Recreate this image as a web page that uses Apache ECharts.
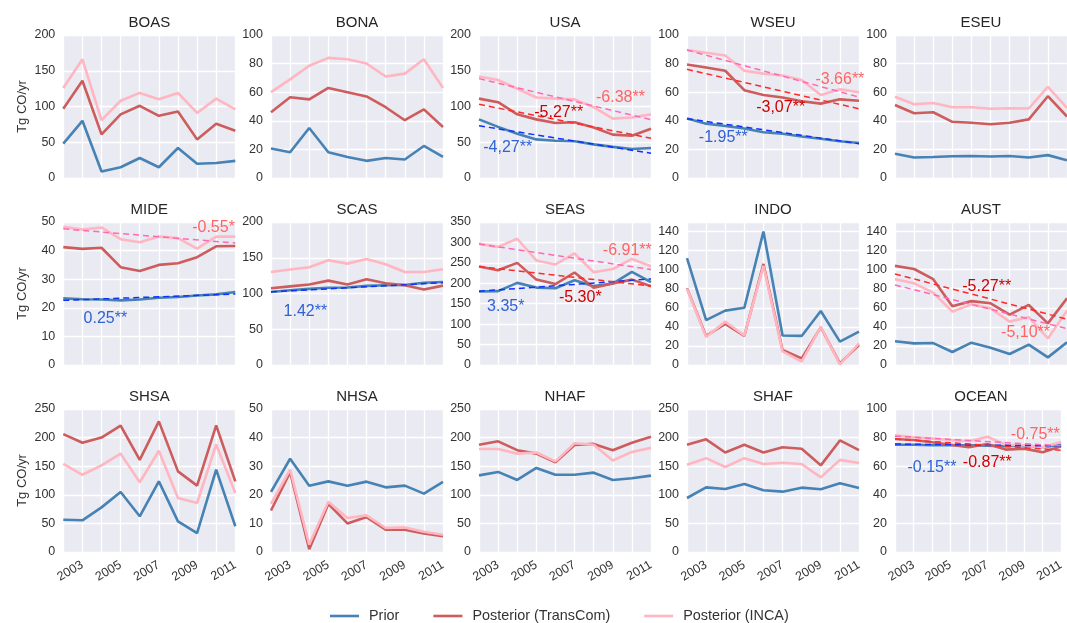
<!DOCTYPE html>
<html><head><meta charset="utf-8">
<script src="https://cdn.jsdelivr.net/npm/echarts@6/dist/echarts.min.js"></script>
<style>html,body{margin:0;padding:0;background:#fff}#c{width:1067px;height:623px}</style>
</head><body><div id="c"></div>
<script>
const YEARS = [2002, 2003, 2004, 2005, 2006, 2007, 2008, 2009, 2010, 2011];
const REGIONS = ['BOAS','BONA','USA','WSEU','ESEU','MIDE','SCAS','SEAS','INDO','AUST','SHSA','NHSA','NHAF','SHAF','OCEAN'];
const Y_MAX = [200, 100, 200, 100, 100, 50, 200, 350, 150, 150, 250, 50, 250, 250, 100];
const Y_STEP = [50, 20, 50, 20, 20, 10, 50, 50, 20, 20, 50, 10, 50, 50, 20];
const Y_LABEL_MAX = [200, 100, 200, 100, 100, 50, 200, 350, 140, 140, 250, 50, 250, 250, 100];
const SERIES_NAMES = ['Prior', 'Posterior (TransCom)', 'Posterior (INCA)'];

const BOAS_PRIOR = [48, 80, 9, 15, 28, 15, 42, 20, 21, 24];
const BOAS_TRANSCOM = [97, 136, 61, 89, 101, 87, 93, 54, 76, 66];
const BOAS_INCA = [126, 166, 81, 108, 119, 110, 119, 91, 111, 96];
const BONA_PRIOR = [20.6, 18, 35, 18, 14.7, 12, 14, 12.9, 22.4, 14.7];
const BONA_TRANSCOM = [46, 56.5, 55, 63, 60, 57, 49.5, 40.4, 48, 35.7];
const BONA_INCA = [60, 69, 78.5, 84, 83, 80, 71, 73, 83, 63];
const USA_PRIOR = [82, 71.5, 62, 54, 52, 51.4, 47, 43.5, 40.6, 42];
const USA_TRANSCOM = [111, 106, 89, 82, 77, 78, 70.6, 60.7, 59, 69];
const USA_INCA = [142, 137, 124.8, 112.6, 111, 110, 99, 83, 84.6, 89];
const WSEU_PRIOR = [41.6, 38, 36.4, 34.6, 32, 31, 29, 27.5, 25.7, 24.5];
const WSEU_TRANSCOM = [79.4, 77.3, 75, 61.4, 58, 56.3, 53.7, 52, 55, 54];
const WSEU_INCA = [89.5, 87.6, 85.7, 75, 73, 71.7, 68.5, 58, 62, 60];
const ESEU_PRIOR = [17, 14.3, 14.7, 15.2, 15.4, 15, 15.4, 14.3, 16, 12.4];
const ESEU_TRANSCOM = [51, 45.3, 46, 39.3, 38.6, 37.6, 38.6, 41, 57.2, 43];
const ESEU_INCA = [56.8, 51.6, 52.5, 49.5, 49.5, 48.4, 48.8, 48.6, 63.8, 49];
const MIDE_PRIOR = [23.3, 23, 22.9, 22.6, 22.9, 23.5, 23.8, 24.3, 24.7, 25.5];
const MIDE_TRANSCOM = [41.2, 40.6, 41, 34.2, 32.9, 35, 35.6, 37.7, 41.5, 41.6];
const MIDE_INCA = [48.3, 47.4, 48.1, 44, 42.9, 44.9, 44.4, 40.7, 44.9, 44.9];
const SCAS_PRIOR = [102, 104.6, 106.5, 108, 108.4, 110.7, 111.6, 112, 115, 116];
const SCAS_TRANSCOM = [107.4, 110, 112.5, 118, 112.5, 120, 114.4, 111.6, 105.6, 111];
const SCAS_INCA = [130, 133.5, 136.7, 146.5, 141.8, 148.4, 141, 130, 130, 134];
const SEAS_PRIOR = [180, 180.7, 201, 189.5, 188, 207.5, 193, 199.4, 228, 202.7];
const SEAS_TRANSCOM = [241, 232, 250, 209, 198, 226.4, 189, 199.4, 209, 193];
const SEAS_INCA = [297, 289, 309, 256, 246, 273, 227, 235, 259.6, 241.7];
const INDO_PRIOR = [112, 47, 57, 60, 140, 31, 30.5, 56.7, 24.5, 35];
const INDO_TRANSCOM = [80.5, 30.5, 43, 30.5, 106, 15.7, 7, 39.5, 1.7, 21];
const INDO_INCA = [80, 29.4, 45.5, 31, 104, 14.3, 3.5, 40, 0.7, 22.7];
const AUST_PRIOR = [25, 22.7, 23, 13.6, 23.4, 18.2, 11.5, 21.3, 8, 23.8];
const AUST_TRANSCOM = [104, 100.7, 90, 61.5, 67, 64.7, 52.8, 63, 43.7, 70];
const AUST_INCA = [90, 85.7, 76, 56, 63.6, 59.4, 45.5, 50.3, 27.9, 57];
const SHSA_PRIOR = [56.5, 55.4, 78, 105, 62.4, 123.5, 53.6, 33, 144, 45];
const SHSA_TRANSCOM = [206, 191, 200, 221, 161, 228.4, 141, 116, 221.4, 123.5];
const SHSA_INCA = [154, 135, 151.5, 172, 122, 177, 94.4, 85.7, 188, 103];
const NHSA_PRIOR = [21, 32.6, 23.2, 24.7, 23.2, 24.6, 22.6, 23.2, 20.4, 24.5];
const NHSA_TRANSCOM = [14.5, 27.9, 1, 16.8, 10, 12.2, 7.8, 7.8, 6.5, 5.5];
const NHSA_INCA = [16.8, 28.8, 2.6, 17.6, 11.9, 12.8, 8.4, 8.6, 7.1, 6];
const NHAF_PRIOR = [134, 140, 126, 147, 135, 135, 138.7, 126, 129, 133.5];
const NHAF_TRANSCOM = [187.6, 193.5, 178, 172, 157, 187, 189, 178, 191, 201.6];
const NHAF_INCA = [180, 180, 172, 174, 158.5, 190, 187.6, 160, 175, 182];
const SHAF_PRIOR = [94.4, 113, 110, 119, 108, 105.5, 112.5, 109.6, 120, 112];
const SHAF_TRANSCOM = [187.6, 197, 174, 187.6, 174, 183, 180.6, 151.5, 195, 178];
const SHAF_INCA = [152.7, 164, 148.6, 164, 153.8, 156, 153.8, 130.5, 161, 155.6];
const OCEAN_PRIOR = [75, 75, 74.6, 74.6, 74.6, 74.4, 73.9, 74.6, 73.2, 75];
const OCEAN_TRANSCOM = [79, 78.3, 76.7, 75, 73.2, 75.5, 71.6, 72.3, 69.7, 74];
const OCEAN_INCA = [81.6, 80.2, 79.3, 78.3, 77.4, 80.6, 75, 74.6, 73.2, 77];

// trend lines: [region, series index (0 prior, 1 transcom, 2 inca), value at 2002, value at 2011]
const TRENDS = [
  ['USA', 0, 73, 34.6], ['USA', 1, 103, 55.6], ['USA', 2, 139, 81.6],
  ['WSEU', 0, 41.5, 24], ['WSEU', 1, 76, 48.4], ['WSEU', 2, 89.5, 56.6],
  ['MIDE', 0, 22.6, 24.85], ['MIDE', 2, 47.6, 42.65],
  ['SCAS', 0, 102.3, 115.1],
  ['SEAS', 0, 180.5, 210.7], ['SEAS', 1, 241, 193.3], ['SEAS', 2, 296, 233.8],
  ['AUST', 1, 95.5, 48.1], ['AUST', 2, 84, 38.1],
  ['OCEAN', 0, 75.5, 74.15], ['OCEAN', 1, 79, 71.2], ['OCEAN', 2, 81, 74.25]
];
// trend annotations: [region, series index, year, value, text]
const ANNOTATIONS = [
  ['USA', 0, 2003.5, 42, '-4,27**'], ['USA', 1, 2006.17, 91, '-5,27**'], ['USA', 2, 2009.4, 112, '-6.38**'],
  ['WSEU', 0, 2003.9, 28, '-1.95**'], ['WSEU', 1, 2006.9, 49, '-3,07**'], ['WSEU', 2, 2010.0, 69, '-3.66**'],
  ['MIDE', 0, 2004.2, 16.4, '0.25**'], ['MIDE', 2, 2009.86, 47.9, '-0.55*'],
  ['SCAS', 0, 2003.8, 74, '1.42**'],
  ['SEAS', 0, 2003.4, 142, '3.35*'], ['SEAS', 1, 2007.3, 166, '-5.30*'], ['SEAS', 2, 2009.76, 279, '-6.91**'],
  ['AUST', 1, 2006.8, 82, '-5.27**'], ['AUST', 2, 2008.83, 33.6, '-5,10**'],
  ['OCEAN', 0, 2004.0, 58.7, '-0.15**'], ['OCEAN', 1, 2007.0, 62.2, '-0.87**'], ['OCEAN', 2, 2009.6, 81.8, '-0.75**']
];

const SRC = {BOAS:[BOAS_PRIOR,BOAS_TRANSCOM,BOAS_INCA],BONA:[BONA_PRIOR,BONA_TRANSCOM,BONA_INCA],USA:[USA_PRIOR,USA_TRANSCOM,USA_INCA],WSEU:[WSEU_PRIOR,WSEU_TRANSCOM,WSEU_INCA],ESEU:[ESEU_PRIOR,ESEU_TRANSCOM,ESEU_INCA],MIDE:[MIDE_PRIOR,MIDE_TRANSCOM,MIDE_INCA],SCAS:[SCAS_PRIOR,SCAS_TRANSCOM,SCAS_INCA],SEAS:[SEAS_PRIOR,SEAS_TRANSCOM,SEAS_INCA],INDO:[INDO_PRIOR,INDO_TRANSCOM,INDO_INCA],AUST:[AUST_PRIOR,AUST_TRANSCOM,AUST_INCA],SHSA:[SHSA_PRIOR,SHSA_TRANSCOM,SHSA_INCA],NHSA:[NHSA_PRIOR,NHSA_TRANSCOM,NHSA_INCA],NHAF:[NHAF_PRIOR,NHAF_TRANSCOM,NHAF_INCA],SHAF:[SHAF_PRIOR,SHAF_TRANSCOM,SHAF_INCA],OCEAN:[OCEAN_PRIOR,OCEAN_TRANSCOM,OCEAN_INCA]};

const LINE_COLORS = ['#4682B4', '#CD5C5C', '#FFB6C1'];
const TREND_COLORS = ['#1030ff', '#ff2a2a', '#ff69b4'];
const TEXT_COLORS = ['#2f62d6', '#d00000', '#ff6464'];
const FONT = "'Liberation Sans', Arial, sans-serif";

const COL_LEFT = [63.3, 271, 479, 687, 895];
const ROW_TOP = [35, 222, 409];
const PW = 172, PH = 143;

const grids = [], xAxes = [], yAxes = [], series = [], graphics = [];
REGIONS.forEach((reg, i) => {
  const r = Math.floor(i / 5), c = i % 5;
  const left = COL_LEFT[c], top = ROW_TOP[r];
  grids.push({left: left, top: top, width: PW, height: PH, show: true, backgroundColor: '#EAEAF2', borderWidth: 0, containLabel: false});
  xAxes.push({
    gridIndex: i, type: 'value', min: 2002, max: 2011, interval: 1,
    axisLine: {show: false}, axisTick: {show: false},
    splitLine: {show: true, lineStyle: {color: '#ffffff', width: 1.3}},
    axisLabel: {show: r === 2, rotate: 30, fontSize: 12.5, color: '#333', fontFamily: FONT, margin: 12,
      formatter: v => (v % 2 === 1 ? String(v) : '')}
  });
  yAxes.push({
    gridIndex: i, type: 'value', min: 0, max: Y_MAX[i], interval: Y_STEP[i],
    axisLine: {show: false}, axisTick: {show: false},
    splitLine: {show: true, lineStyle: {color: '#ffffff', width: 1.3}},
    axisLabel: {fontSize: 12.5, color: '#333', fontFamily: FONT, margin: 8, showMaxLabel: Y_LABEL_MAX[i] === Y_MAX[i],
      formatter: v => (v > Y_LABEL_MAX[i] ? '' : String(v))},
    name: c === 0 ? 'Tg CO/yr' : '', nameLocation: 'middle', nameGap: 34, nameRotate: 90,
    nameTextStyle: {fontSize: 13, color: '#333', fontFamily: FONT}
  });
  graphics.push({type: 'text', x: left + PW / 2, y: top - 12,
    style: {text: reg, fontSize: 15, fill: '#262626', fontFamily: FONT, textAlign: 'center', textVerticalAlign: 'middle'}});
  SRC[reg].forEach((arr, k) => {
    series.push({
      type: 'line', name: SERIES_NAMES[k], xAxisIndex: i, yAxisIndex: i,
      data: YEARS.map((y, j) => [y, arr[j]]), showSymbol: false, symbol: 'none',
      lineStyle: {color: LINE_COLORS[k], width: 2.6}, itemStyle: {color: LINE_COLORS[k]},
      z: 2 + k, animation: false, silent: true
    });
  });
});
TRENDS.forEach(t => {
  const i = REGIONS.indexOf(t[0]);
  series.push({type: 'line', name: 'trend', xAxisIndex: i, yAxisIndex: i,
    data: [[YEARS[0], t[2]], [YEARS[YEARS.length - 1], t[3]]], symbol: 'none',
    lineStyle: {color: TREND_COLORS[t[1]], width: 1.5, type: [6, 4]}, z: 6, animation: false, silent: true});
});
ANNOTATIONS.forEach(a => {
  const i = REGIONS.indexOf(a[0]);
  series.push({type: 'scatter', name: 'annot', xAxisIndex: i, yAxisIndex: i,
    data: [[a[2], a[3]]], symbolSize: 1, itemStyle: {color: 'rgba(0,0,0,0)', opacity: 1}, clip: false,
    label: {show: true, position: 'inside', formatter: a[4], fontSize: 16, color: TEXT_COLORS[a[1]],
      fontFamily: FONT, textBorderWidth: 0, opacity: 1},
    z: 8, animation: false, silent: true});
});

const chart = echarts.init(document.getElementById('c'), null, {renderer: 'canvas'});
chart.setOption({
  animation: false,
  backgroundColor: '#ffffff',
  textStyle: {fontFamily: FONT},
  grid: grids, xAxis: xAxes, yAxis: yAxes, series: series,
  graphic: graphics,
  legend: {data: SERIES_NAMES, top: 604, left: 325, itemGap: 34, itemWidth: 29, itemHeight: 2.6, icon: 'rect',
    textStyle: {fontSize: 14.4, color: '#333', fontFamily: FONT, padding: [0, 0, 0, 5]}}
});
</script></body></html>
